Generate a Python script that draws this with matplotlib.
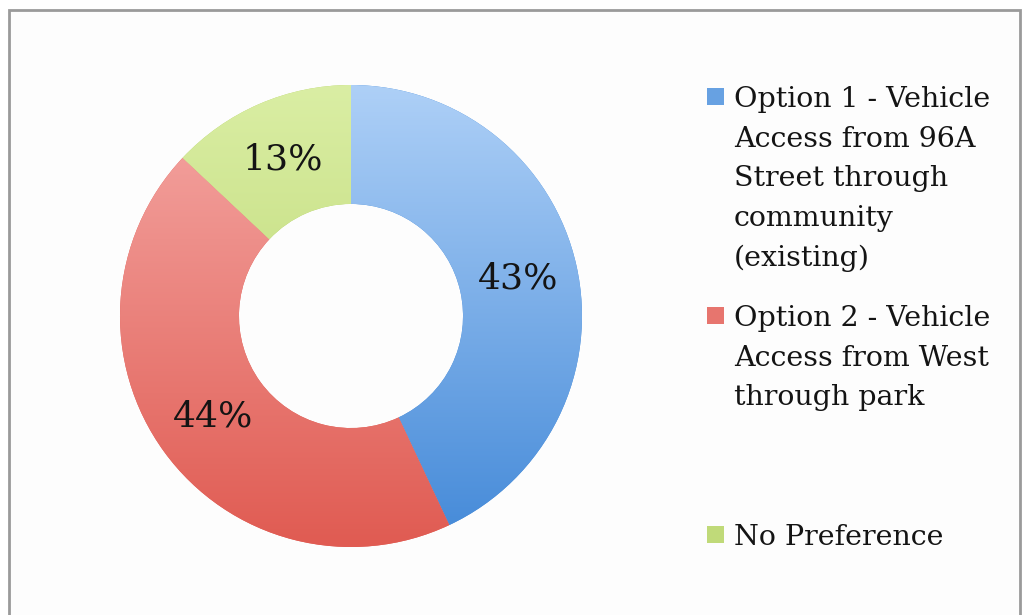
import numpy as np
import matplotlib
matplotlib.use("Agg")
from matplotlib import pyplot as plt
from matplotlib.patches import Rectangle

labels = ["Option 1 - Vehicle\nAccess from 96A\nStreet through\ncommunity\n(existing)",
          "Option 2 - Vehicle\nAccess from West\nthrough park",
          "No Preference"]
shares = [43, 44, 13]
top_colors = ["#aed0f7", "#f5a9a6", "#daeea4"]
bottom_colors = ["#4389d8", "#e05b52", "#b3d064"]

W, H = 1030, 615
fig = plt.figure(figsize=(W/100, H/100), dpi=100)
fig.patch.set_facecolor("white")

# outer frame of the chart area
frame = Rectangle((9/W, -0.05), 1011/W, (H - 10)/H + 0.05, transform=fig.transFigure,
                  facecolor="#fdfdfd", edgecolor="#9a9a9a", linewidth=2, zorder=-5)
fig.patches.append(frame)

cx, cy, r = 351, 316, 231
ax = fig.add_axes([(cx - r)/W, (H - cy - r)/H, 2*r/W, 2*r/H])
ax.set_zorder(2)
ax.axis("off")

wedges, _, autotexts = ax.pie(shares, radius=1, startangle=90, counterclock=False,
                              wedgeprops=dict(width=0.515, linewidth=0),
                              autopct=lambda p: "%d%%" % round(p), pctdistance=0.74,
                              textprops=dict(family="DejaVu Serif", fontsize=26, color="#141414"))

# vertical gradient inside each slice
grad = np.linspace(0, 1, 256).reshape(-1, 1)
for w, c0, c1 in zip(wedges, top_colors, bottom_colors):
    a = np.array(matplotlib.colors.to_rgb(c0))
    b = np.array(matplotlib.colors.to_rgb(c1))
    img = a[None, None, :] * (1 - grad[:, :, None]) + b[None, None, :] * grad[:, :, None]
    im = ax.imshow(img, extent=[-1, 1, -1, 1], origin="upper", aspect="auto", zorder=1)
    im.set_clip_path(w)
    w.set_facecolor(c1)
for t in autotexts:
    t.set_zorder(3)
ax.set_xlim(-1, 1)
ax.set_ylim(-1, 1)

# legend, one equal slot per entry
slot = 219
for i, (lab, c0, c1) in enumerate(zip(labels, top_colors, bottom_colors)):
    ytop = 88 + i*slot
    mid = (np.array(matplotlib.colors.to_rgb(c0)) + 2*np.array(matplotlib.colors.to_rgb(c1))) / 3
    sq = Rectangle((707/W, 1 - (ytop + 17)/H), 17/W, 17/H, transform=fig.transFigure,
                   facecolor=mid, edgecolor="none", zorder=3)
    fig.patches.append(sq)
    fig.text(734/W, 1 - (ytop - 2)/H, lab, family="DejaVu Serif", fontsize=20.5,
             va="top", ha="left", color="#141414", linespacing=1.6)

fig.savefig("out.png", dpi=100)
